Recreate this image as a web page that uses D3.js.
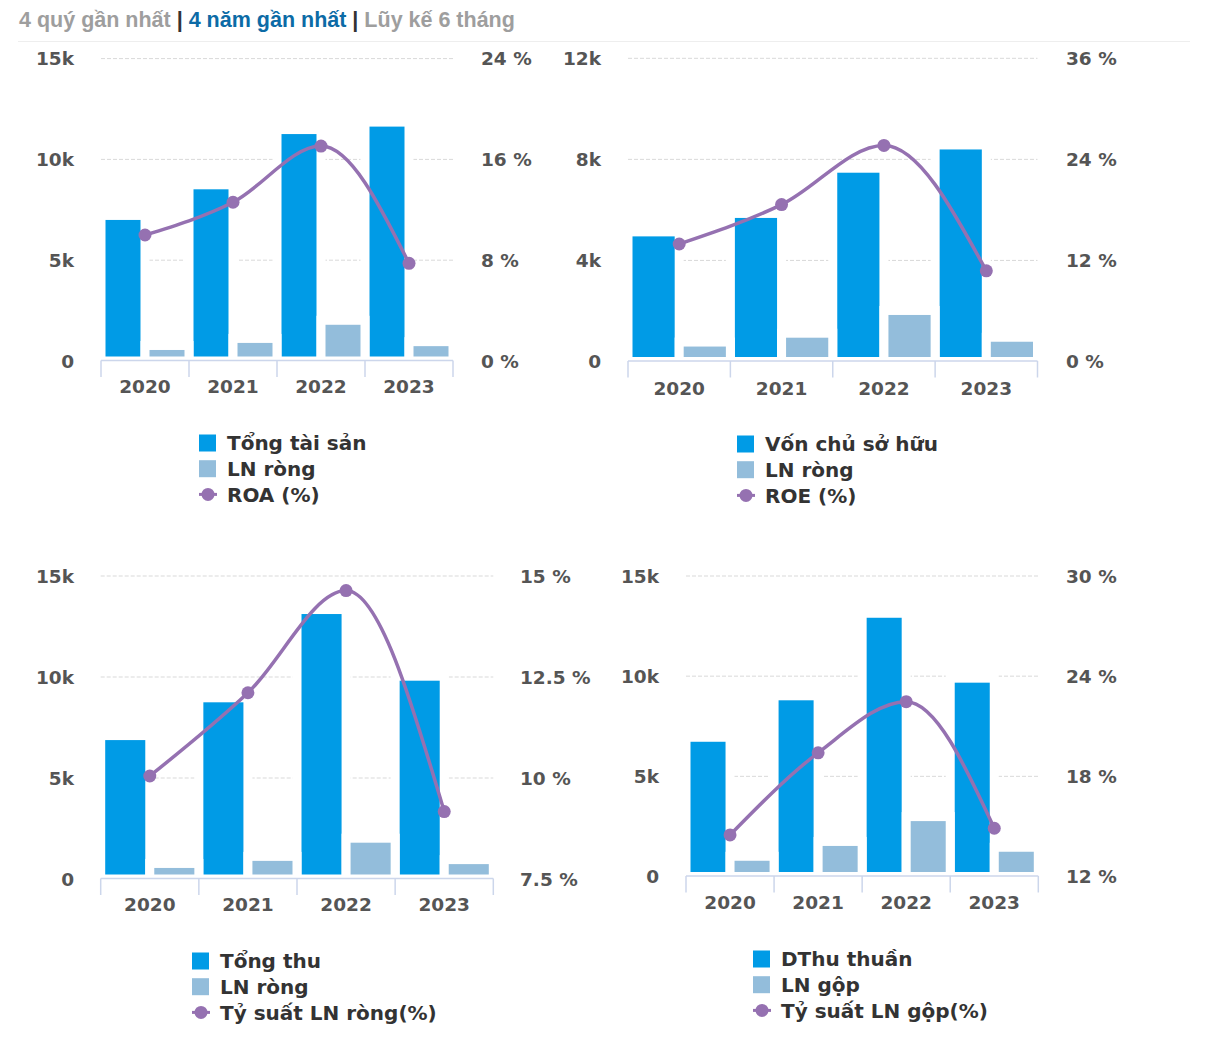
<!DOCTYPE html>
<html>
<head>
<meta charset="utf-8">
<script src="https://cdn.jsdelivr.net/npm/d3@7/dist/d3.min.js"></script>
<style>
  html, body { margin: 0; padding: 0; background: #fff; }
  svg { display: block; }
</style>
</head>
<body>
<svg id="chart" width="1212" height="1050"></svg>
<script>
// ---------- DATA ----------
const years = ["2020", "2021", "2022", "2023"];

const tongTaiSan = [7220, 8740, 11480, 11850];
const lnRong = [770, 1120, 2020, 960];
const roa = [10.0, 12.6, 17.06, 7.75];

const vonChuSoHuu = [5130, 5860, 7650, 8570];
const roe = [13.95, 18.63, 25.65, 10.77];

const tongThu = [7100, 8970, 13340, 10040];
const tySuatLNRong = [10.05, 12.11, 14.64, 9.17];

const dThuThuan = [6950, 9020, 13140, 9900];
const lnGop = [1010, 1750, 2990, 1460];
const tySuatLNGop = [14.49, 19.41, 22.47, 14.89];

const leftTicksA = [0, 5000, 10000, 15000];
const leftLabelsA = ["0", "5k", "10k", "15k"];
const leftTicksB = [0, 4000, 8000, 12000];
const leftLabelsB = ["0", "4k", "8k", "12k"];

const rightTicksROA = [0, 8, 16, 24];
const rightLabelsROA = ["0 %", "8 %", "16 %", "24 %"];
const rightTicksROE = [0, 12, 24, 36];
const rightLabelsROE = ["0 %", "12 %", "24 %", "36 %"];
const rightTicksNet = [7.5, 10, 12.5, 15];
const rightLabelsNet = ["7.5 %", "10 %", "12.5 %", "15 %"];
const rightTicksGross = [12, 18, 24, 30];
const rightLabelsGross = ["12 %", "18 %", "24 %", "30 %"];

const headerParts = ["4 quý gần nhất", " | ", "4 năm gần nhất", " | ", "Lũy kế 6 tháng"];

// ---------- STYLE ----------
const C_BAR = "#009be6";
const C_BAR2 = "#93bddb";
const C_LINE = "#9571b1";
const C_TEXT = "#555";
const C_LEG = "#333";
const FONT = "'DejaVu Sans', Verdana, sans-serif";

const panels = [
  { bars: tongTaiSan, bars2: lnRong, line: roa,
    names: ["Tổng tài sản", "LN ròng", "ROA (%)"],
    lTicks: leftTicksA, lLabels: leftLabelsA, rTicks: rightTicksROA, rLabels: rightLabelsROA,
    x0: 101, x1: 453, yTop: 58.6, yZero: 361, lx: 74, rx: 481, yearY: 386, legX: 199, legY: 443 },
  { bars: vonChuSoHuu, bars2: lnRong, line: roe,
    names: ["Vốn chủ sở hữu", "LN ròng", "ROE (%)"],
    lTicks: leftTicksB, lLabels: leftLabelsB, rTicks: rightTicksROE, rLabels: rightLabelsROE,
    x0: 628, x1: 1037.5, yTop: 58.3, yZero: 361.5, lx: 601, rx: 1066, yearY: 388, legX: 737, legY: 444 },
  { bars: tongThu, bars2: lnRong, line: tySuatLNRong,
    names: ["Tổng thu", "LN ròng", "Tỷ suất LN ròng(%)"],
    lTicks: leftTicksA, lLabels: leftLabelsA, rTicks: rightTicksNet, rLabels: rightLabelsNet,
    x0: 100.7, x1: 493.3, yTop: 576, yZero: 879, lx: 74, rx: 520, yearY: 904, legX: 192, legY: 961 },
  { bars: dThuThuan, bars2: lnGop, line: tySuatLNGop,
    names: ["DThu thuần", "LN gộp", "Tỷ suất LN gộp(%)"],
    lTicks: leftTicksA, lLabels: leftLabelsA, rTicks: rightTicksGross, rLabels: rightLabelsGross,
    x0: 686, x1: 1038.3, yTop: 576, yZero: 876.5, lx: 659, rx: 1066, yearY: 902, legX: 753, legY: 959 }
];

const svg = d3.select("#chart");

// ---------- HEADER ----------
const head = svg.append("text")
  .attr("x", 19).attr("y", 26.5)
  .attr("font-family", "'Liberation Sans', Arial, sans-serif")
  .attr("font-weight", "bold").attr("font-size", 21.5);
const headColors = ["#9e9e9e", "#333", "#0c6ba6", "#333", "#9e9e9e"];
headerParts.forEach((t, i) => head.append("tspan").attr("fill", headColors[i]).text(t));
svg.append("line").attr("x1", 18).attr("x2", 1190).attr("y1", 41.5).attr("y2", 41.5)
  .attr("stroke", "#eeeeee").attr("stroke-width", 1);

// ---------- PANELS ----------
panels.forEach(p => {
  const g = svg.append("g");
  const lMax = p.lTicks[p.lTicks.length - 1];
  const y = d3.scaleLinear().domain([0, lMax]).range([p.yZero, p.yTop]);
  const yR = d3.scaleLinear().domain([p.rTicks[0], p.rTicks[p.rTicks.length - 1]]).range([p.yZero, p.yTop]);
  const x = d3.scaleBand().domain(years).range([p.x0, p.x1]).padding(0);
  const xs = d3.scaleBand().domain(["a", "b"]).range([0, x.bandwidth()]).padding(0);

  // gridlines
  g.append("g").selectAll("line").data(p.lTicks.slice(1)).join("line")
    .attr("x1", p.x0).attr("x2", p.x1)
    .attr("y1", d => y(d)).attr("y2", d => y(d))
    .attr("stroke", "#d9d9d9").attr("stroke-width", 1).attr("stroke-dasharray", "4,2");

  // left axis labels
  g.append("g").selectAll("text").data(p.lTicks).join("text")
    .attr("x", p.lx).attr("y", d => y(d)).attr("dy", "0.36em")
    .attr("text-anchor", "end").attr("fill", C_TEXT)
    .attr("font-family", FONT).attr("font-weight", 700).attr("font-size", 18.5)
    .text((d, i) => p.lLabels[i]);

  // right axis labels
  g.append("g").selectAll("text").data(p.rTicks).join("text")
    .attr("x", p.rx).attr("y", d => yR(d)).attr("dy", "0.36em")
    .attr("text-anchor", "start").attr("fill", C_TEXT)
    .attr("font-family", FONT).attr("font-weight", 700).attr("font-size", 18.5)
    .text((d, i) => p.rLabels[i]);

  // bars
  const bw = xs.bandwidth();
  g.append("g").selectAll("rect").data(years).join("rect")
    .attr("x", d => x(d) + xs("a")).attr("width", bw)
    .attr("y", (d, i) => y(p.bars[i])).attr("height", (d, i) => p.yZero - y(p.bars[i]))
    .attr("fill", C_BAR).attr("stroke", "#fff").attr("stroke-width", 9);
  g.append("g").selectAll("rect").data(years).join("rect")
    .attr("x", d => x(d) + xs("b")).attr("width", bw)
    .attr("y", (d, i) => y(p.bars2[i])).attr("height", (d, i) => p.yZero - y(p.bars2[i]))
    .attr("fill", C_BAR2).attr("stroke", "#fff").attr("stroke-width", 9);

  // x axis line + ticks
  const ax = g.append("g");
  ax.append("line").attr("x1", p.x0).attr("x2", p.x1)
    .attr("y1", p.yZero - 0.5).attr("y2", p.yZero - 0.5)
    .attr("stroke", "#ccd6eb").attr("stroke-width", 1.5);
  const tickXs = years.map(d => x(d)).concat([p.x1]);
  ax.selectAll("line.tick").data(tickXs).join("line").attr("class", "tick")
    .attr("x1", d => d).attr("x2", d => d)
    .attr("y1", p.yZero - 0.5).attr("y2", p.yZero + 16)
    .attr("stroke", "#ccd6eb").attr("stroke-width", 1.5);
  ax.selectAll("text").data(years).join("text")
    .attr("x", d => x(d) + x.bandwidth() / 2).attr("y", p.yearY).attr("dy", "0.36em")
    .attr("text-anchor", "middle").attr("fill", C_TEXT)
    .attr("font-family", FONT).attr("font-weight", 700).attr("font-size", 18.5)
    .text(d => d);

  // line
  const pts = years.map((d, i) => [x(d) + x.bandwidth() / 2, yR(p.line[i])]);
  g.append("path").attr("d", d3.line().curve(d3.curveMonotoneX)(pts))
    .attr("fill", "none").attr("stroke", C_LINE).attr("stroke-width", 3.5);
  g.append("g").selectAll("circle").data(pts).join("circle")
    .attr("cx", d => d[0]).attr("cy", d => d[1]).attr("r", 6.5)
    .attr("fill", C_LINE);

  // legend
  const leg = g.append("g");
  const rowH = 25.7;
  [C_BAR, C_BAR2].forEach((c, i) => {
    leg.append("rect").attr("x", p.legX).attr("y", p.legY + i * rowH - 8.5)
      .attr("width", 17).attr("height", 17).attr("fill", c);
  });
  const ly = p.legY + 2 * rowH;
  leg.append("line").attr("x1", p.legX).attr("x2", p.legX + 18)
    .attr("y1", ly).attr("y2", ly).attr("stroke", C_LINE).attr("stroke-width", 3);
  leg.append("circle").attr("cx", p.legX + 9).attr("cy", ly).attr("r", 6.5).attr("fill", C_LINE);
  leg.selectAll("text").data(p.names).join("text")
    .attr("x", p.legX + 28).attr("y", (d, i) => p.legY + i * rowH).attr("dy", "0.36em")
    .attr("fill", C_LEG).attr("font-family", FONT).attr("font-weight", 700).attr("font-size", 20)
    .text(d => d);
});
</script>
</body>
</html>
